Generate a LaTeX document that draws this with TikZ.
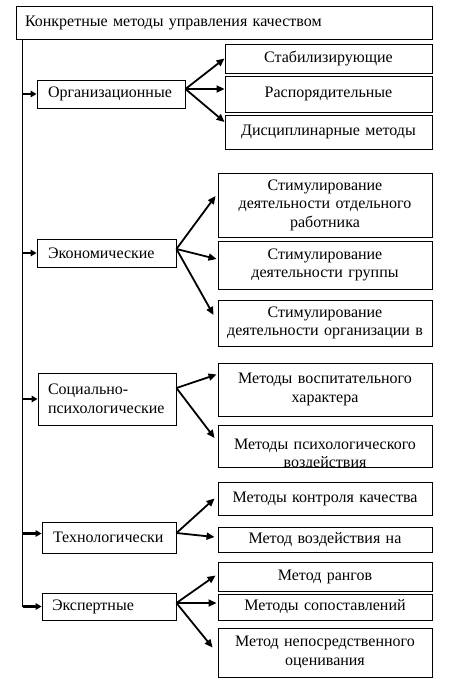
\documentclass[tikz,border=0pt]{standalone}
\usepackage{fontspec}
\setmainfont{Liberation Serif}
\usetikzlibrary{arrows.meta}
\begin{document}
\begin{tikzpicture}[x=1pt,y=-1pt,
  box/.style={draw,line width=0.9pt,rectangle,inner sep=0pt,font=\fontsize{16}{18.5}\selectfont},
  lbox/.style={box,align=left},
  rbox/.style={box,align=center,text width=204pt,minimum width=214pt},
  arr/.style={line width=1.8pt,-{Triangle[length=8pt,width=7pt]}},
  stub/.style={line width=2.2pt,-{Triangle[length=6pt,width=6.5pt]}},
  spine/.style={line width=0.9pt}]
\useasboundingbox (0,0) rectangle (448,682);
% top
\node[lbox,text width=398pt,minimum width=416pt,minimum height=33pt] (top) at (224,22.5) {Конкретные методы управления качеством};
% left boxes
\node[lbox,text width=126pt,minimum width=148pt,minimum height=28pt] (org) at (111,94) {Организационные};
\node[lbox,text width=117pt,minimum width=139pt,minimum height=28pt] (econ) at (106.5,253) {Экономические};
\node[lbox,text width=118pt,minimum width=138pt,minimum height=52pt] (soc) at (107,399) {Социально-\\психологические};
\node[lbox,text width=112pt,minimum width=134pt,minimum height=31pt] (tech) at (109,537.5) {Технологически};
\node[lbox,text width=114pt,minimum width=134pt,minimum height=27pt] (exp) at (109,606.5) {Экспертные};
% right boxes
\node[rbox,text width=197pt,minimum width=207pt,minimum height=29pt] (stab) at (328.5,58.5) {Стабилизирующие};
\node[rbox,text width=197pt,minimum width=207pt,minimum height=36pt] (rasp) at (328.5,94) {Распорядительные\vphantom{y}};
\node[rbox,text width=197pt,minimum width=207pt,minimum height=34pt] (disc) at (328.5,132) {Дисциплинарные методы};
\node[rbox,minimum height=64pt] (st1) at (325,205) {Стимулирование\\деятельности отдельного\\работника};
\node[rbox,minimum height=48pt] (st2) at (325,265) {Стимулирование\\деятельности группы};
\node[rbox,minimum height=46pt] (st3) at (325,323) {Стимулирование\\деятельности организации в};
\node[rbox,minimum height=53pt] (vosp) at (325,389.5) {Методы воспитательного\\характера};
\node[box,minimum width=214pt,minimum height=42pt,
  path picture={\node[font=\fontsize{16}{18.5}\selectfont,align=center,text width=204pt] (psychtext) at ([yshift=-9pt]path picture bounding box.center) {Методы психологического\\воздействия};}] (psych) at (325,446) {};
\node[rbox,minimum height=33pt] (kontr) at (325,498.5) {Методы контроля качества};
\node[rbox,minimum height=25pt] (vozd) at (325,539.5) {Метод воздействия на};
\node[rbox,minimum height=29pt] (rang) at (325,576.5) {Метод рангов};
\node[rbox,minimum height=26pt] (sopost) at (325,607) {Методы сопоставлений};
\node[rbox,minimum height=49pt] (nep) at (325,652.5) {Метод непосредственного\\оценивания};
% spine
\coordinate (s0) at ([xshift=7pt]top.south west);
\coordinate (s1) at (s0 |- exp.west);
\draw[spine] (s0) -- (s1);
\draw[stub] (s0 |- org.west) -- (org.west);
\draw[stub] (s0 |- econ.west) -- (econ.west);
\draw[stub] (s0 |- soc.west) -- (soc.west);
\draw[stub] ([yshift=4pt]s0 |- tech.west) -- ([yshift=4pt]tech.west);
\draw[stub] (s1) -- (exp.west);
% arrows
\coordinate (oe) at ([yshift=5pt]org.east);
\draw[arr] (oe) -- (stab.west);
\draw[arr] (oe) -- (oe -| rasp.west);
\draw[arr] (oe) -- ([yshift=10pt]disc.west);
\coordinate (ee) at ([yshift=4pt]econ.east);
\draw[arr] (ee) -- ([yshift=9pt,xshift=-2pt]st1.west);
\draw[arr] (ee) -- ([yshift=6pt,xshift=-1pt]st2.west);
\draw[arr] (ee) -- ([yshift=8pt,xshift=-4pt]st3.west);
\coordinate (se) at ([yshift=11pt]soc.east);
\draw[arr] (se) -- ([yshift=15pt,xshift=-1pt]vosp.west);
\draw[arr] (se) -- ([yshift=8pt,xshift=-3pt]psych.west);
\coordinate (te) at ([yshift=4.5pt]tech.east);
\draw[arr] (te) -- ([xshift=-3pt]kontr.west);
\draw[arr] (te) -- ([yshift=2.5pt,xshift=-3pt]vozd.west);
\coordinate (xe) at ([yshift=3.5pt]exp.east);
\draw[arr] (xe) -- ([yshift=1pt,xshift=-2pt]rang.west);
\draw[arr] (xe) -- ([yshift=4pt,xshift=-1pt]sopost.west);
\draw[arr] (xe) -- ([yshift=5pt,xshift=-5pt]nep.west);
\end{tikzpicture}
\end{document}
